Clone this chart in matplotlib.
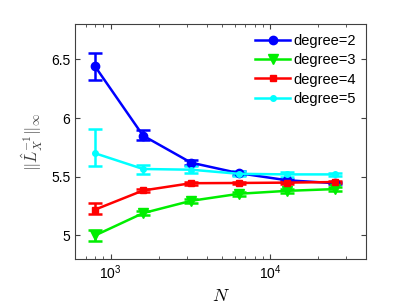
import numpy as np
import matplotlib
matplotlib.use("Agg")
import matplotlib.pyplot as plt
from matplotlib.lines import Line2D

plt.rcParams['font.family'] = ['Liberation Sans', 'DejaVu Sans']
plt.rcParams['mathtext.fontset'] = 'cm'

N = [800, 1600, 3200, 6400, 12800, 25600]

# mean values and (lower, upper) error extents
deg2 = [6.44, 5.85, 5.62, 5.53, 5.47, 5.445]
deg2_lo = [0.12, 0.035, 0.02, 0.015, 0.012, 0.01]
deg2_hi = [0.11, 0.045, 0.02, 0.015, 0.012, 0.01]
deg3 = [5.00, 5.19, 5.295, 5.355, 5.38, 5.395]
deg3_lo = [0.045, 0.02, 0.015, 0.015, 0.015, 0.015]
deg3_hi = [0.045, 0.02, 0.015, 0.015, 0.015, 0.015]
deg4 = [5.22, 5.383, 5.445, 5.447, 5.45, 5.455]
deg4_lo = [0.035, 0.015, 0.012, 0.012, 0.012, 0.012]
deg4_hi = [0.055, 0.015, 0.012, 0.012, 0.012, 0.012]
deg5 = [5.70, 5.566, 5.56, 5.525, 5.52, 5.52]
deg5_lo = [0.105, 0.04, 0.03, 0.02, 0.02, 0.015]
deg5_hi = [0.205, 0.035, 0.03, 0.02, 0.02, 0.015]

series = [
    ("degree=2", deg2, deg2_lo, deg2_hi, "#0000ff", "o", 6),
    ("degree=3", deg3, deg3_lo, deg3_hi, "#00ee00", "v", 6.5),
    ("degree=4", deg4, deg4_lo, deg4_hi, "#ff0000", "s", 5),
    ("degree=5", deg5, deg5_lo, deg5_hi, "#00ffff", ".", 8),
]

fig = plt.figure(figsize=(4.15, 3.05), dpi=100)
ax = fig.add_axes([0.181, 0.151, 0.701, 0.770])
handles = []
for lab, y, lo, hi, c, m, ms in series:
    ax.errorbar(N, y, yerr=[lo, hi], color=c, marker=m, ms=ms, lw=1.8,
                capsize=5, capthick=1.8, elinewidth=1.8)
    handles.append(Line2D([], [], color=c, marker=m, ms=ms, lw=1.8, label=lab))

ax.set_xscale("log")
ax.set_xlim(600, 40000)
ax.set_ylim(4.8, 6.8)
ax.set_yticks([5, 5.5, 6, 6.5])
ax.set_yticklabels(["5", "5.5", "6", "6.5"])
ax.tick_params(direction="in", which="both", top=True, right=True,
               labelsize=10, colors="#404040", labelcolor="black")
for s in ax.spines.values():
    s.set_color("#404040")
ax.set_xlabel("$N$", fontsize=13)
ax.set_ylabel(r"$\|\hat{L}_X^{-1}\|_\infty$", fontsize=12, color="#404040")

ax.legend(handles=handles, loc="upper right", frameon=False, fontsize=10.5,
          handlelength=2.4, handletextpad=0.2, labelspacing=0.35,
          borderaxespad=0.3)

fig.savefig("out.png", dpi=100)
